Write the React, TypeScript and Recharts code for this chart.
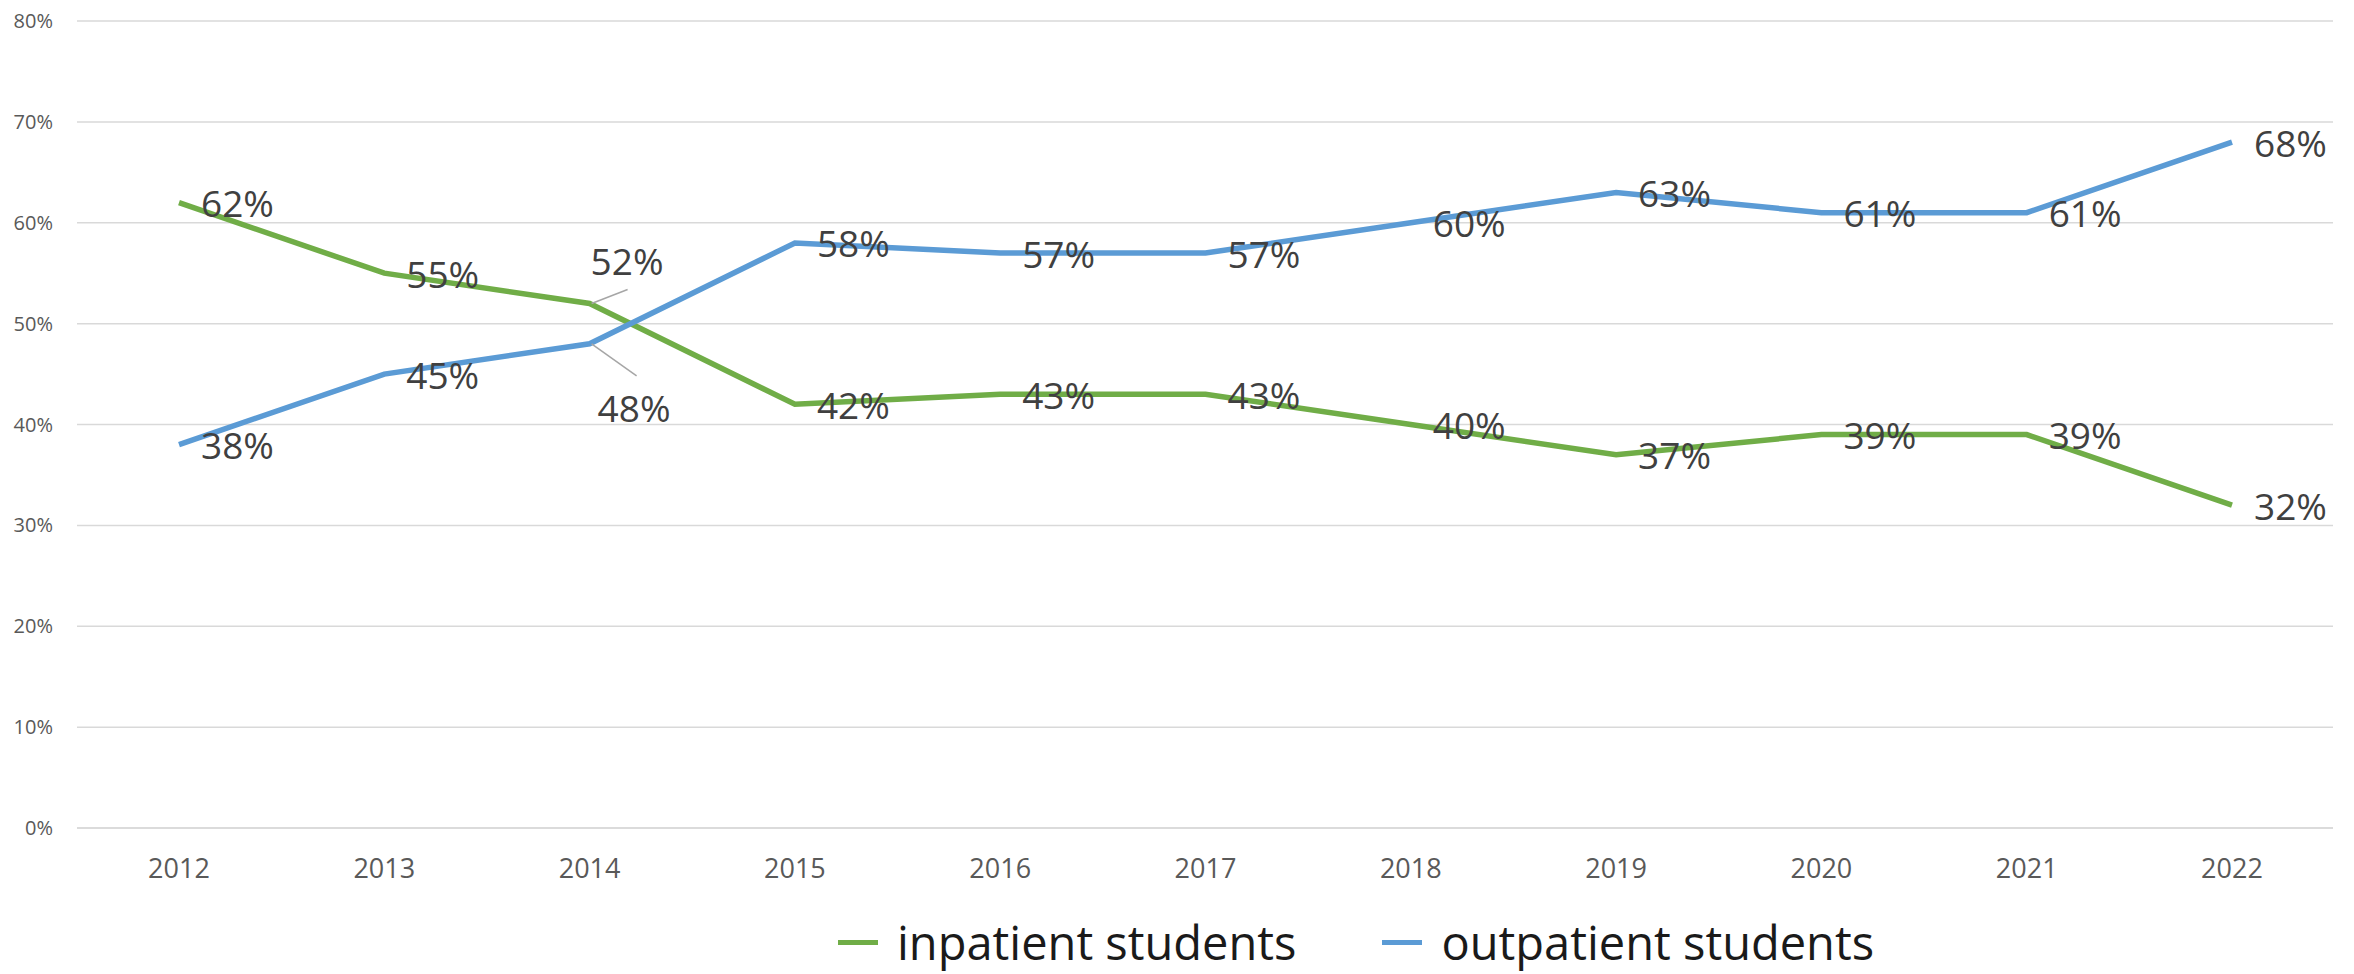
import React from 'react';
import { LineChart, Line, XAxis, YAxis, CartesianGrid, Legend, LabelList } from 'recharts';

const years = ['2012', '2013', '2014', '2015', '2016', '2017', '2018', '2019', '2020', '2021', '2022'];
const inpatient = [62, 55, 52, 42, 43, 43, 40, 37, 39, 39, 32];
const outpatient = [38, 45, 48, 58, 57, 57, 60, 63, 61, 61, 68];
const yTicks = [0, 10, 20, 30, 40, 50, 60, 70, 80];
const seriesNames = ['inpatient students', 'outpatient students'];
const seriesColors = ['#70AD47', '#5B9BD5'];

const data = years.map((year, i) => ({ year, inpatient: inpatient[i], outpatient: outpatient[i] }));

const FONT = '"Open Sans", "Noto Sans", sans-serif';
const LEADER_INDEX = 2;

const makeLabel = (series: 'in' | 'out') => (props: any) => {
  const { x, y, value, index } = props;
  if (x == null || y == null) return null;
  const common = {
    fontFamily: FONT,
    fontSize: 37,
    fill: '#404040',
    dominantBaseline: 'central' as const,
  };
  if (index === LEADER_INDEX) {
    const dx = series === 'in' ? 1 : 8;
    const dy = series === 'in' ? -43 : 64;
    const lx = series === 'in' ? 38 : 47;
    const ly = series === 'in' ? -14 : 32;
    return (
      <g>
        <line x1={x + 2} y1={y} x2={x + lx} y2={y + ly} stroke="#A6A6A6" strokeWidth={1.5} />
        <text x={x + dx} y={y + dy} {...common}>{value}%</text>
      </g>
    );
  }
  return <text x={x + 22} y={y} {...common}>{value}%</text>;
};

const LegendContent = () => (
  <div style={{ display: 'flex', alignItems: 'center', height: 48, fontFamily: FONT, fontSize: 47, color: '#1a1a1a', lineHeight: '48px', whiteSpace: 'nowrap' }}>
    {seriesNames.map((name, i) => (
      <div key={name} style={{ display: 'flex', alignItems: 'center', marginRight: i === 0 ? 86 : 0 }}>
        <span style={{ display: 'inline-block', width: 40, height: 5, background: seriesColors[i], marginRight: 19 }} />
        <span>{name}</span>
      </div>
    ))}
  </div>
);

export default function App() {
  return (
    <div style={{ position: 'absolute', left: 0, top: 0, width: 2354, height: 974, background: '#fff' }}>
      <LineChart width={2354} height={974} data={data} margin={{ top: 21, right: 21, left: 0, bottom: 86 }}>
        <CartesianGrid vertical={false} stroke="#D9D9D9" strokeWidth={1.5} />
        <XAxis
          dataKey="year"
          height={60}
          padding={{ left: 102, right: 101 }}
          axisLine={{ stroke: '#D9D9D9', strokeWidth: 1.5 }}
          tickLine={false}
          tickMargin={25}
          tick={{ fontFamily: FONT, fontSize: 27, fill: '#595959' }}
        />
        <YAxis
          width={77}
          domain={[0, 80]}
          ticks={yTicks}
          interval={0}
          axisLine={false}
          tickLine={false}
          tickMargin={18}
          tickFormatter={(v: number) => `${v}%`}
          tick={{ fontFamily: FONT, fontSize: 20, fill: '#595959' }}
        />
        <Legend
          layout="horizontal"
          verticalAlign="middle"
          align="center"
          content={<LegendContent />}
          wrapperStyle={{ top: 918, left: 838, width: 1400, height: 48 }}
        />
        <Line type="linear" dataKey="inpatient" name={seriesNames[0]} stroke={seriesColors[0]} strokeWidth={5.5} dot={false} activeDot={false} isAnimationActive={false} />
        <Line type="linear" dataKey="outpatient" name={seriesNames[1]} stroke={seriesColors[1]} strokeWidth={5.5} dot={false} activeDot={false} isAnimationActive={false} />
        <Line type="linear" dataKey="inpatient" stroke="none" legendType="none" dot={false} activeDot={false} isAnimationActive={false}>
          <LabelList dataKey="inpatient" content={makeLabel('in')} />
        </Line>
        <Line type="linear" dataKey="outpatient" stroke="none" legendType="none" dot={false} activeDot={false} isAnimationActive={false}>
          <LabelList dataKey="outpatient" content={makeLabel('out')} />
        </Line>
      </LineChart>
    </div>
  );
}
